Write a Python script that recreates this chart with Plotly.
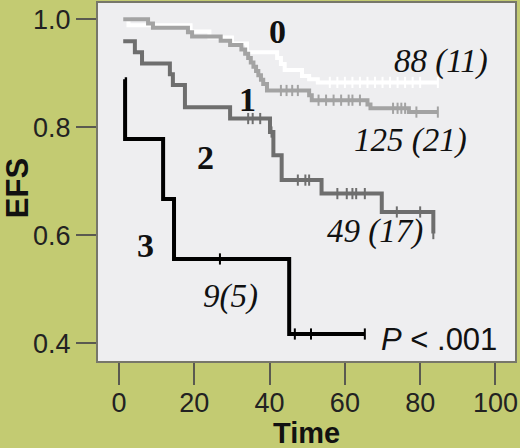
import plotly.graph_objects as go

# Kaplan-Meier steps (time, EFS) per group
g0_time = [1.1, 2.5, 19.0, 24.0, 30.0, 34.0, 42.0, 43.0, 44.0, 48.6, 50.5, 52.8, 84.7]
g0_efs = [1.0, 0.989, 0.977, 0.966, 0.955, 0.939, 0.928, 0.917, 0.906, 0.895, 0.889, 0.883, 0.883]
g0_cens = [56, 58, 60, 62, 64, 66, 68, 70, 72, 74, 76, 78, 80, 84.7]

g1_time = [1.1, 7.7, 9.0, 18.3, 19.4, 27.0, 29.5, 32.5, 33.5, 34.3, 35.0, 35.7, 36.4,
           37.0, 37.7, 38.3, 39.3, 50.5, 51.2, 66.0, 66.8, 77.0, 84.7]
g1_efs = [1.0, 0.992, 0.984, 0.976, 0.968, 0.960, 0.952, 0.944, 0.936, 0.928, 0.920, 0.912, 0.904,
          0.896, 0.888, 0.880, 0.868, 0.859, 0.850, 0.842, 0.835, 0.828, 0.828]
g1_cens = [43, 44.5, 46, 47.5, 53, 55, 57, 59, 61, 62, 64, 72.8, 74, 75, 76, 79, 84.7]

g2_time = [1.1, 4.2, 6.1, 13.5, 14.3, 17.5, 29.5, 40.1, 41.0, 43.2, 53.8, 69.8, 83.5]
g2_efs = [0.959, 0.939, 0.918, 0.898, 0.878, 0.837, 0.816, 0.791, 0.748, 0.702, 0.677, 0.643, 0.603]
g2_cens = [34.3, 35.5, 37.5, 40.5, 47.5, 49.5, 50.5, 58, 60.5, 62, 63, 65.3, 73.8, 80, 83.5]

g3_time = [1.5, 1.6, 11.7, 14.6, 45.2, 65.3]
g3_efs = [0.889, 0.778, 0.667, 0.556, 0.417, 0.417]
g3_cens = [26.8, 46.7, 51.0, 65.3]

groups = [
    (g0_time, g0_efs, g0_cens, "#ffffff"),
    (g1_time, g1_efs, g1_cens, "#a3a3a3"),
    (g2_time, g2_efs, g2_cens, "#6e6e6e"),
    (g3_time, g3_efs, g3_cens, "#000000"),
]


def step_value(times, vals, t):
    v = vals[0]
    for ti, vi in zip(times, vals):
        if ti <= t:
            v = vi
    return v


fig = go.Figure()
# draw black and dark grey first, white under light grey
for times, vals, cens, col in [groups[3], groups[2], groups[0], groups[1]]:
    fig.add_trace(go.Scatter(x=times, y=vals, mode="lines", line_shape="hv",
                             line=dict(color=col, width=4), hoverinfo="skip"))
    fig.add_trace(go.Scatter(x=cens, y=[step_value(times, vals, c) for c in cens],
                             mode="markers",
                             marker=dict(symbol="line-ns", size=8,
                                         line=dict(color=col, width=2)),
                             hoverinfo="skip"))

serif = "Liberation Serif, Times New Roman, serif"
sans = "Liberation Sans, Arial, sans-serif"

notas = [
    ("<b>0</b>", 42.0, 0.978, 34),
    ("<b>1</b>", 34.0, 0.851, 34),
    ("<b>2</b>", 23.0, 0.744, 34),
    ("<b>3</b>", 7.0, 0.580, 34),
    ("<i>88 (11)</i>", 85.5, 0.922, 33),
    ("<i>125 (21)</i>", 77.5, 0.775, 33),
    ("<i>49 (17)</i>", 68.0, 0.606, 33),
    ("<i>9(5)</i>", 29.5, 0.486, 33),
]
for txt, x, y, s in notas:
    fig.add_annotation(x=x, y=y, text=txt, showarrow=False,
                       font=dict(family=serif, size=s, color="#111111"))
fig.add_annotation(x=85.0, y=0.407, text="<i>P</i> < .001", showarrow=False,
                   font=dict(family=sans, size=31, color="#111111"))

# axis titles as paper annotations
fig.add_annotation(x=0.499, y=-0.200, xref="paper", yref="paper", text="<b>Time</b>",
                   xanchor="center", yanchor="middle", showarrow=False, borderpad=0,
                   font=dict(family=sans, size=29, color="#111111"))
fig.add_annotation(x=-0.194, y=0.483, xref="paper", yref="paper", text="<b>EFS</b>",
                   xanchor="center", yanchor="middle", textangle=-90, showarrow=False,
                   borderpad=0, font=dict(family=sans, size=31, color="#111111"))

fig.update_layout(
    width=520, height=448,
    showlegend=False,
    paper_bgcolor="#c3cb72",
    plot_bgcolor="#eeeef0",
    margin=dict(l=98, r=5, t=3, b=87),
    font=dict(family=sans, color="#222222"),
)
fig.update_xaxes(
    range=[-5.6, 105.2], tickvals=[0, 20, 40, 60, 80, 100],
    ticks="outside", ticklen=22, tickwidth=2, tickcolor="#5a5a50",
    tickfont=dict(size=27, color="#222222"), ticklabelstandoff=-5,
    showgrid=False, zeroline=False, automargin=False,
    showline=True, mirror=True, linecolor="#77776a", linewidth=2,
)
fig.update_yaxes(
    range=[0.367, 1.03], tickvals=[0.4, 0.6, 0.8, 1.0], tickformat=".1f",
    ticks="outside", ticklen=20, tickwidth=2, tickcolor="#5a5a50",
    tickfont=dict(size=27, color="#222222"),
    showgrid=False, zeroline=False, automargin=False,
    showline=True, mirror=True, linecolor="#77776a", linewidth=2,
)

# page body has a default 8px margin; drop it so the figure fills the window
fig.write_html("out.html", config={"displayModeBar": False},
               post_script="document.body.style.margin='0';")
